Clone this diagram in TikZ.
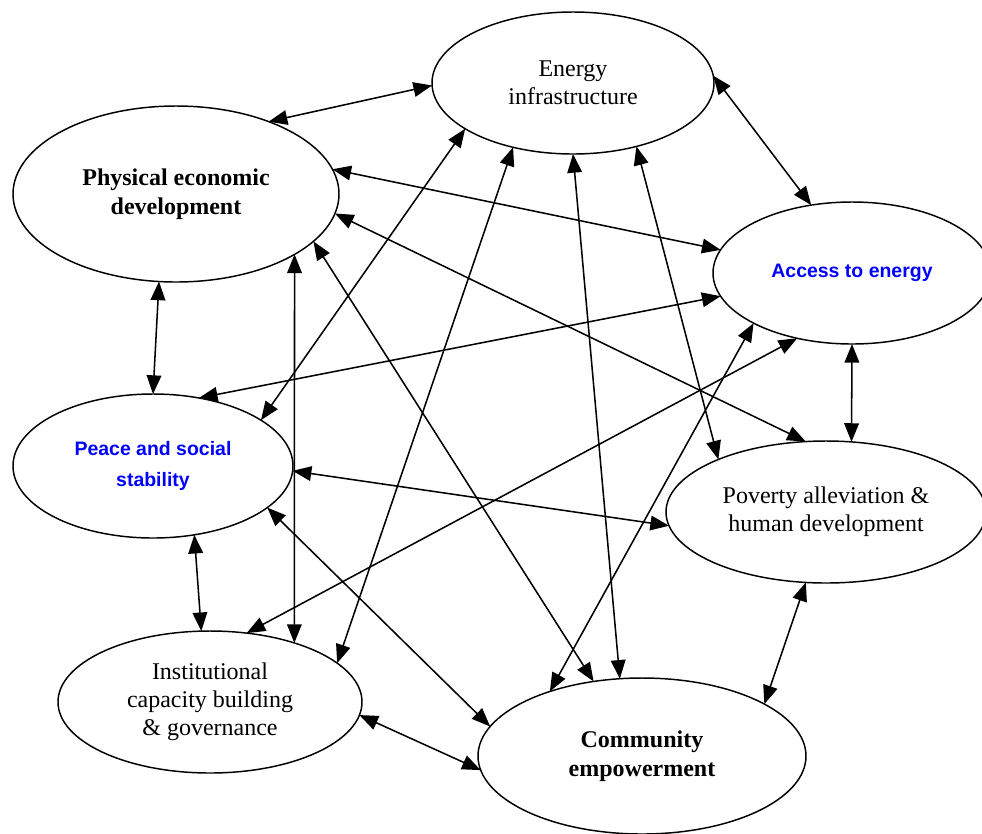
\documentclass[tikz,border=0pt]{standalone}
\usepackage{fontspec}
\setmainfont{Liberation Serif}
\setsansfont{Liberation Sans}
\usetikzlibrary{shapes.geometric,arrows.meta}
\definecolor{lblblue}{RGB}{0,0,255}
\tikzset{
  bubble/.style={draw, ellipse, line width=1.1pt, inner sep=0pt, outer sep=0pt, align=center},
  serifl/.style={font=\fontsize{18}{21}\selectfont},
  serifb/.style={font=\fontsize{18}{21.5}\selectfont\bfseries},
  sansb/.style={font=\fontsize{14.6}{23}\selectfont\sffamily\bfseries, text=lblblue},
  link/.style={{Triangle[length=14pt,width=11pt]}-{Triangle[length=14pt,width=11pt]}, line width=1.15pt}
}
\begin{document}
\begin{tikzpicture}[x=0.75pt,y=-0.75pt]
\clip (0,0) rectangle (982,833);
\fill[white] (0,0) rectangle (982,833);
\useasboundingbox (0,0) rectangle (982,833);

\node[bubble, serifl, minimum width=211.5pt, minimum height=106.5pt] (EI) at (573,83) {Energy\\infrastructure};
\node[bubble, serifb, minimum width=244.5pt, minimum height=132pt] (PED) at (176,194) {Physical economic\\development};
\node[bubble, sansb, minimum width=208.5pt, minimum height=106.5pt] (AE) at (852,273) {Access to energy};
\node[bubble, sansb, minimum width=210pt, minimum height=108pt] (PSS) at (153,466) {Peace and social\\stability};
\node[bubble, serifl, minimum width=240pt, minimum height=106.5pt] (PA) at (826,512) {Poverty alleviation \&\\human development};
\node[bubble, serifl, minimum width=228pt, minimum height=106.5pt] (IC) at (210,702) {Institutional\\capacity building\\\& governance};
\node[bubble, serifb, minimum width=246pt, minimum height=117pt] (CE) at (642,756) {Community\\empowerment};

\draw[link] (PED.38.2) -- (EI.181.2);
\draw[link] (EI.3) -- (AE.121.4);
\draw[link] (PED.9.8) -- (AE.170.7);
\draw[link] (PED.353.3) -- (PA.106.3);
\draw[link] (PED.341.8) -- (CE.123.7);
\draw[link] (PED.333.6) -- (IC.35);
\draw[link] (PED.259.2) -- (PSS.90);
\draw[link] (EI.203.1) -- (PSS.23.2);
\draw[link] (EI.227.3) -- (IC.17.1);
\draw[link] (EI.270) -- (CE.106.2);
\draw[link] (EI.315) -- (PA.154.8);
\draw[link] (AE.190.2) -- (PSS.56.5);
\draw[link] (AE.230.7) -- (IC.62.1);
\draw[link] (AE.207.2) -- (CE.145.2);
\draw[link] (AE.270) -- (PA.70.4);
\draw[link] (PSS.358.8) -- (PA.185.2);
\draw[link] (PSS.340.1) -- (CE.169.1);
\draw[link] (PSS.301.9) -- (IC.97.9);
\draw[link] (PA.254) -- (CE.23.7);
\draw[link] (IC.355.9) -- (CE.185.6);
\end{tikzpicture}
\end{document}
